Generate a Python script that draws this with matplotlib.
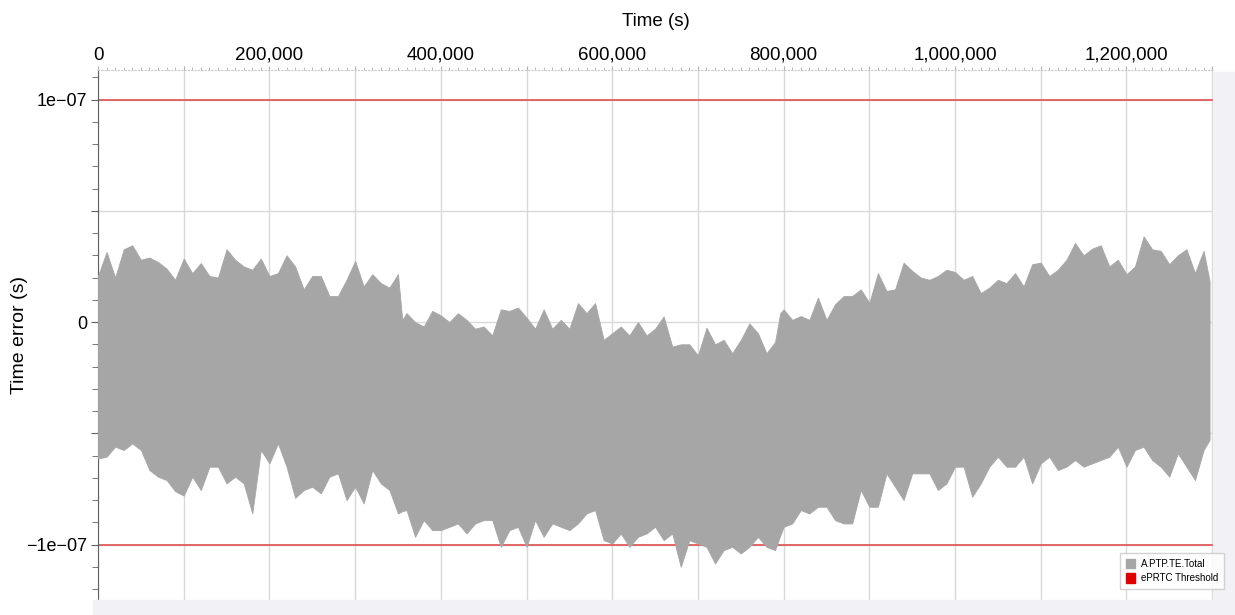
import numpy as np
import matplotlib
matplotlib.use("Agg")
import matplotlib.pyplot as plt
from matplotlib.patches import Patch, Rectangle
from matplotlib.ticker import FuncFormatter, MultipleLocator

plt.rcParams['font.family'] = ['Liberation Sans', 'DejaVu Sans']

# time axis (in 1000 s) and envelope of A.PTP.TE.Total (in 1e-8 s)
time_k = (list(range(0, 351, 10)) + [355] + list(range(360, 791, 10)) + [796]
          + list(range(800, 1291, 10)) + [1297])

upper_e8 = [2.07, 3.15, 2.0, 3.27, 3.45, 2.8, 2.9, 2.7, 2.4, 1.9,
            2.85, 2.2, 2.65, 2.07, 2.0, 3.27, 2.8, 2.5, 2.35, 2.85,
            2.07, 2.2, 3.0, 2.5, 1.47, 2.07, 2.07, 1.17, 1.17, 1.9,
            2.75, 1.6, 2.15, 1.75, 1.55, 2.15,
            0.1,
            0.4, 0.0, -0.2, 0.5, 0.3, 0.0, 0.4, 0.1, -0.3, -0.2,
            -0.6, 0.57, 0.5, 0.65, 0.2, -0.3, 0.57, -0.3, 0.1, -0.3,
            0.85, 0.4, 0.85, -0.8, -0.5, -0.2, -0.6, 0.0, -0.6, -0.3,
            0.25, -1.1, -1.0, -1.0, -1.5, -0.25, -1.0, -0.8, -1.4, -0.8,
            -0.06, -0.5, -1.4, -0.9,
            0.4,
            0.57, 0.1, 0.27, 0.1, 1.1, 0.1, 0.8, 1.17, 1.17, 1.47,
            0.87, 2.2, 1.4, 1.47, 2.67, 2.3, 2.0, 1.9, 2.07, 2.35,
            2.25, 1.9, 2.07, 1.3, 1.55, 1.9, 1.75, 2.2, 1.6, 2.6,
            2.67, 2.07, 2.35, 2.8, 3.55, 3.0, 3.3, 3.45, 2.5, 2.8,
            2.15, 2.5, 3.85, 3.27, 3.2, 2.6, 3.0, 3.27, 2.2, 3.2,
            1.85]

lower_e8 = [-6.13, -6.05, -5.6, -5.75, -5.45, -5.75, -6.65, -6.95, -7.1, -7.6,
            -7.8, -6.95, -7.55, -6.5, -6.5, -7.25, -6.95, -7.25, -8.6, -5.75,
            -6.35, -5.45, -6.5, -7.9, -7.55, -7.4, -7.7, -6.95, -6.8, -8.0,
            -7.4, -8.15, -6.65, -7.25, -7.55, -8.6,
            -8.5,
            -8.45, -9.65, -8.9, -9.35, -9.35, -9.2, -9.05, -9.5, -9.05, -8.9,
            -8.9, -10.1, -9.35, -9.2, -10.1, -8.9, -9.65, -9.05, -9.2, -9.35,
            -9.05, -8.6, -8.45, -9.8, -9.95, -9.5, -10.1, -9.65, -9.5, -9.2,
            -9.8, -9.5, -11.0, -9.8, -9.95, -10.1, -10.85, -10.25, -10.1, -10.4,
            -10.1, -9.65, -10.1, -10.25,
            -9.6,
            -9.2, -9.05, -8.45, -8.6, -8.3, -8.3, -8.9, -9.05, -9.05, -7.55,
            -8.3, -8.3, -6.8, -7.4, -8.0, -6.8, -6.8, -6.8, -7.55, -7.25,
            -6.5, -6.5, -7.85, -7.25, -6.5, -6.05, -6.5, -6.5, -6.05, -7.25,
            -6.35, -6.05, -6.65, -6.5, -6.2, -6.5, -6.35, -6.2, -6.05, -5.6,
            -6.5, -5.75, -5.6, -6.2, -6.5, -6.95, -5.9, -6.5, -7.1, -5.75,
            -5.3]

threshold = 1e-07
series_names = ['A.PTP.TE.Total', 'ePRTC Threshold']

t = np.array(time_k) * 1000.0
up = np.array(upper_e8) * 1e-8
lo = np.array(lower_e8) * 1e-8

fig = plt.figure(figsize=(12.35, 6.15), dpi=100)
# light grey strips right and below the plot
fig.patches.append(Rectangle((1213 / 1235, 0), 22 / 1235, 543 / 615,
                             transform=fig.transFigure, color='#f2f2f6', zorder=0))
fig.patches.append(Rectangle((93 / 1235, 0), 1142 / 1235, 15 / 615,
                             transform=fig.transFigure, color='#f2f2f6', zorder=0))

ax = fig.add_axes([98 / 1235, 15 / 615, 1115 / 1235, 530 / 615])

ax.axhline(threshold, color='#e05050', lw=1.2, zorder=2)
ax.axhline(-threshold, color='#e05050', lw=1.2, zorder=2)
ax.fill_between(t, lo, up, color='#a6a6a6', lw=0.6, edgecolor='#a6a6a6', zorder=3)

ax.set_xlim(0, 1301000)
ax.set_ylim(-1.249e-07, 1.1326e-07)

ax.xaxis.tick_top()
ax.xaxis.set_label_position('top')
ax.xaxis.set_major_locator(MultipleLocator(100000))
ax.xaxis.set_minor_locator(MultipleLocator(10000))
ax.xaxis.set_major_formatter(FuncFormatter(
    lambda v, p: f"{int(round(v)):,}" if round(v) % 200000 == 0 else ''))
ax.yaxis.set_major_locator(MultipleLocator(5e-08))
ax.yaxis.set_minor_locator(MultipleLocator(1e-08))


def yfmt(v, p):
    k = round(v / 1e-07, 6)
    if abs(k - round(k)) > 1e-6:
        return ''
    if round(k) == 0:
        return '0'
    return f"{v:.0e}".replace('-', '\u2212')


ax.yaxis.set_major_formatter(FuncFormatter(yfmt))

ax.grid(True, which='major', color='#d9d9d9', lw=1.0, zorder=1)
ax.set_axisbelow(True)

for s in ['right', 'bottom']:
    ax.spines[s].set_visible(False)
ax.spines['top'].set_color('#c8c8c8')
ax.spines['top'].set_linestyle((0, (1, 2)))
ax.spines['left'].set_color('#606060')

ax.tick_params(axis='x', which='major', length=3, color='#b0b0b0', labelsize=13.5, pad=1.5)
ax.tick_params(axis='x', which='minor', length=2, color='#b0b0b0')
ax.tick_params(axis='y', which='major', length=5, color='#606060', labelsize=13, pad=3)
ax.tick_params(axis='y', which='minor', length=4, color='#606060')

ax.set_xlabel('Time (s)', fontsize=13.5, labelpad=15)
ax.set_ylabel('Time error (s)', fontsize=14)
ax.yaxis.set_label_coords(-0.0625, 0.5)

handles = [Patch(color='#a6a6a6'), Patch(color='#e00000')]
fig.legend(handles, series_names, loc='lower right',
           bbox_to_anchor=(1229 / 1235, 21 / 615), fontsize=7,
           frameon=True, fancybox=False, edgecolor='#c8c8c8',
           handlelength=1.0, handleheight=1.1, handletextpad=0.6,
           borderpad=0.6, labelspacing=0.45)

fig.savefig('out.png', dpi=100, facecolor='white')
